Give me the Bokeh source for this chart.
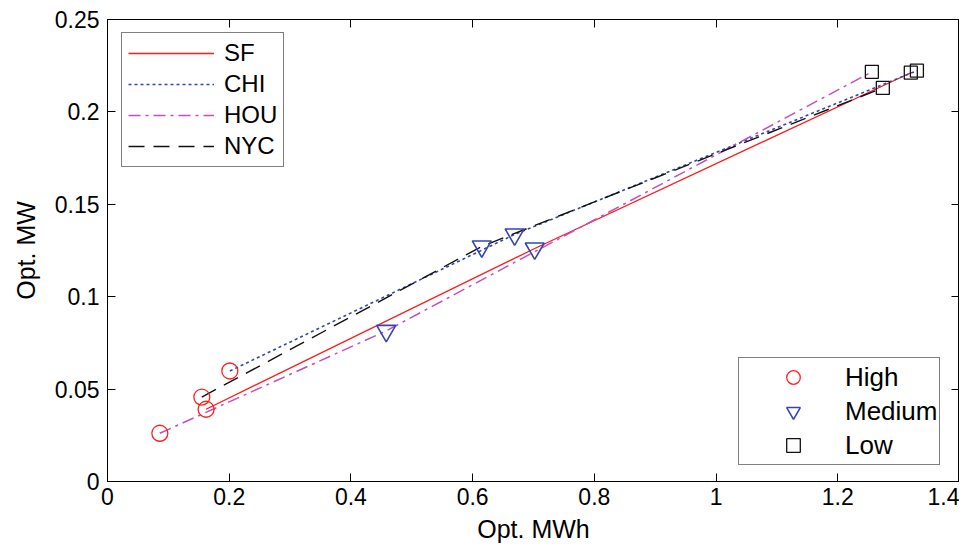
from bokeh.plotting import figure
from bokeh.models import FixedTicker, LinearAxis, Legend, LegendItem, Range1d
from bokeh.embed import file_html
from bokeh.resources import INLINE

# ---- data ----
levels = ["High", "Medium", "Low"]
cities = ["SF", "CHI", "HOU", "NYC"]

sf_mwh = [0.162, 0.702, 1.320]
sf_mw = [0.0391, 0.1261, 0.2212]
chi_mwh = [0.201, 0.669, 1.330]
chi_mw = [0.0598, 0.1337, 0.2223]
hou_mwh = [0.086, 0.458, 1.256]
hou_mw = [0.0261, 0.0815, 0.2217]
nyc_mwh = [0.155, 0.615, 1.274]
nyc_mw = [0.0457, 0.1272, 0.2130]

x_ticks = [0, 0.2, 0.4, 0.6, 0.8, 1.0, 1.2, 1.4]
x_tick_labels = ["0", "0.2", "0.4", "0.6", "0.8", "1", "1.2", "1.4"]
y_ticks = [0, 0.05, 0.1, 0.15, 0.2, 0.25]
y_tick_labels = ["0", "0.05", "0.1", "0.15", "0.2", "0.25"]

FONT = "Liberation Sans"

p = figure(width=959, height=546, x_range=Range1d(0, 1.4), y_range=Range1d(0, 0.25),
           output_backend="svg", toolbar_location=None,
           min_border_left=107, min_border_right=0, min_border_top=19, min_border_bottom=65)
p.xgrid.visible = False
p.ygrid.visible = False
p.outline_line_color = "black"
p.outline_line_width = 1
p.background_fill_color = "white"
p.border_fill_color = "white"


def style_axis(ax, ticks, labels, show_labels=True):
    ax.ticker = FixedTicker(ticks=ticks)
    ax.minor_tick_line_color = None
    ax.major_tick_in = 8
    ax.major_tick_out = 0
    ax.major_tick_line_color = "black"
    ax.major_tick_line_width = 1
    ax.axis_line_color = "black"
    ax.axis_line_width = 1
    if show_labels:
        ax.major_label_overrides = {t: l for t, l in zip(ticks, labels)}
        ax.major_label_text_font = FONT
        ax.major_label_text_font_size = "23px"
        ax.major_label_text_color = "black"
        ax.axis_label_text_font = FONT
        ax.axis_label_text_font_size = "25px"
        ax.axis_label_text_font_style = "normal"
        ax.axis_label_text_color = "black"
    else:
        ax.major_label_overrides = {t: "" for t in ticks}
        ax.major_label_text_font_size = "0px"
        ax.major_label_standoff = 0


style_axis(p.xaxis[0], x_ticks, x_tick_labels)
p.xaxis[0].axis_label = "Opt. MWh"
p.xaxis[0].major_label_standoff = 6
p.xaxis[0].axis_label_standoff = 7
style_axis(p.yaxis[0], y_ticks, y_tick_labels)
p.yaxis[0].axis_label = "Opt. MW"
p.yaxis[0].major_label_standoff = 8
p.yaxis[0].axis_label_standoff = 12

top_ax = LinearAxis()
style_axis(top_ax, x_ticks, x_tick_labels, show_labels=False)
p.add_layout(top_ax, "above")
right_ax = LinearAxis()
style_axis(right_ax, y_ticks, y_tick_labels, show_labels=False)
p.add_layout(right_ax, "right")

LW = 1.3
c_sf = "#ff1a1a"
c_chi = "#3446b0"
c_hou = "#c24fbd"
c_nyc = "#111111"

r_sf = p.line(sf_mwh, sf_mw, line_color=c_sf, line_width=LW, line_dash="solid")
r_chi = p.line(chi_mwh, chi_mw, line_color=c_chi, line_width=1.6, line_dash="3 3")
r_hou = p.line(hou_mwh, hou_mw, line_color=c_hou, line_width=1.5, line_dash="12 5 3 5")
r_nyc = p.line(nyc_mwh, nyc_mw, line_color=c_nyc, line_width=1.4, line_dash="16 9")

series_x = [sf_mwh, chi_mwh, hou_mwh, nyc_mwh]
series_y = [sf_mw, chi_mw, hou_mw, nyc_mw]
level_x = [[s[i] for s in series_x] for i in range(3)]
level_y = [[s[i] for s in series_y] for i in range(3)]

r_high = p.scatter(level_x[0], level_y[0], marker="circle", size=16, fill_color=None,
                   line_color="#ff2020", line_width=1.3)
r_med = p.scatter(level_x[1], level_y[1], marker="inverted_triangle", size=19, fill_color=None,
                  line_color="#3446b0", line_width=1.6)
r_low = p.scatter(level_x[2], level_y[2], marker="square", size=13, fill_color=None,
                  line_color="#111111", line_width=1.3)


def style_legend(leg, size):
    leg.border_line_color = "black"
    leg.border_line_width = 1
    leg.background_fill_color = "white"
    leg.background_fill_alpha = 1
    leg.label_text_font = FONT
    leg.label_text_font_size = size
    leg.label_text_color = "black"
    leg.margin = 0


leg1 = Legend(items=[LegendItem(label=c, renderers=[r]) for c, r in
                     zip(cities, [r_sf, r_chi, r_hou, r_nyc])],
              location=(14, 314))
style_legend(leg1, "24px")
leg1.glyph_height = 20
leg1.label_height = 20
leg1.spacing = 3
leg1.padding = 6
leg1.glyph_width = 86
leg1.label_standoff = 10
p.add_layout(leg1)

leg2 = Legend(items=[LegendItem(label=l, renderers=[r]) for l, r in
                     zip(levels, [r_high, r_med, r_low])],
              location=(631, 16))
style_legend(leg2, "26px")
leg2.glyph_height = 34
leg2.label_height = 20
leg2.spacing = 0
leg2.padding = 2
leg2.glyph_width = 104
leg2.label_standoff = 0
p.add_layout(leg2)

open("out.html", "w").write(file_html(p, INLINE))
